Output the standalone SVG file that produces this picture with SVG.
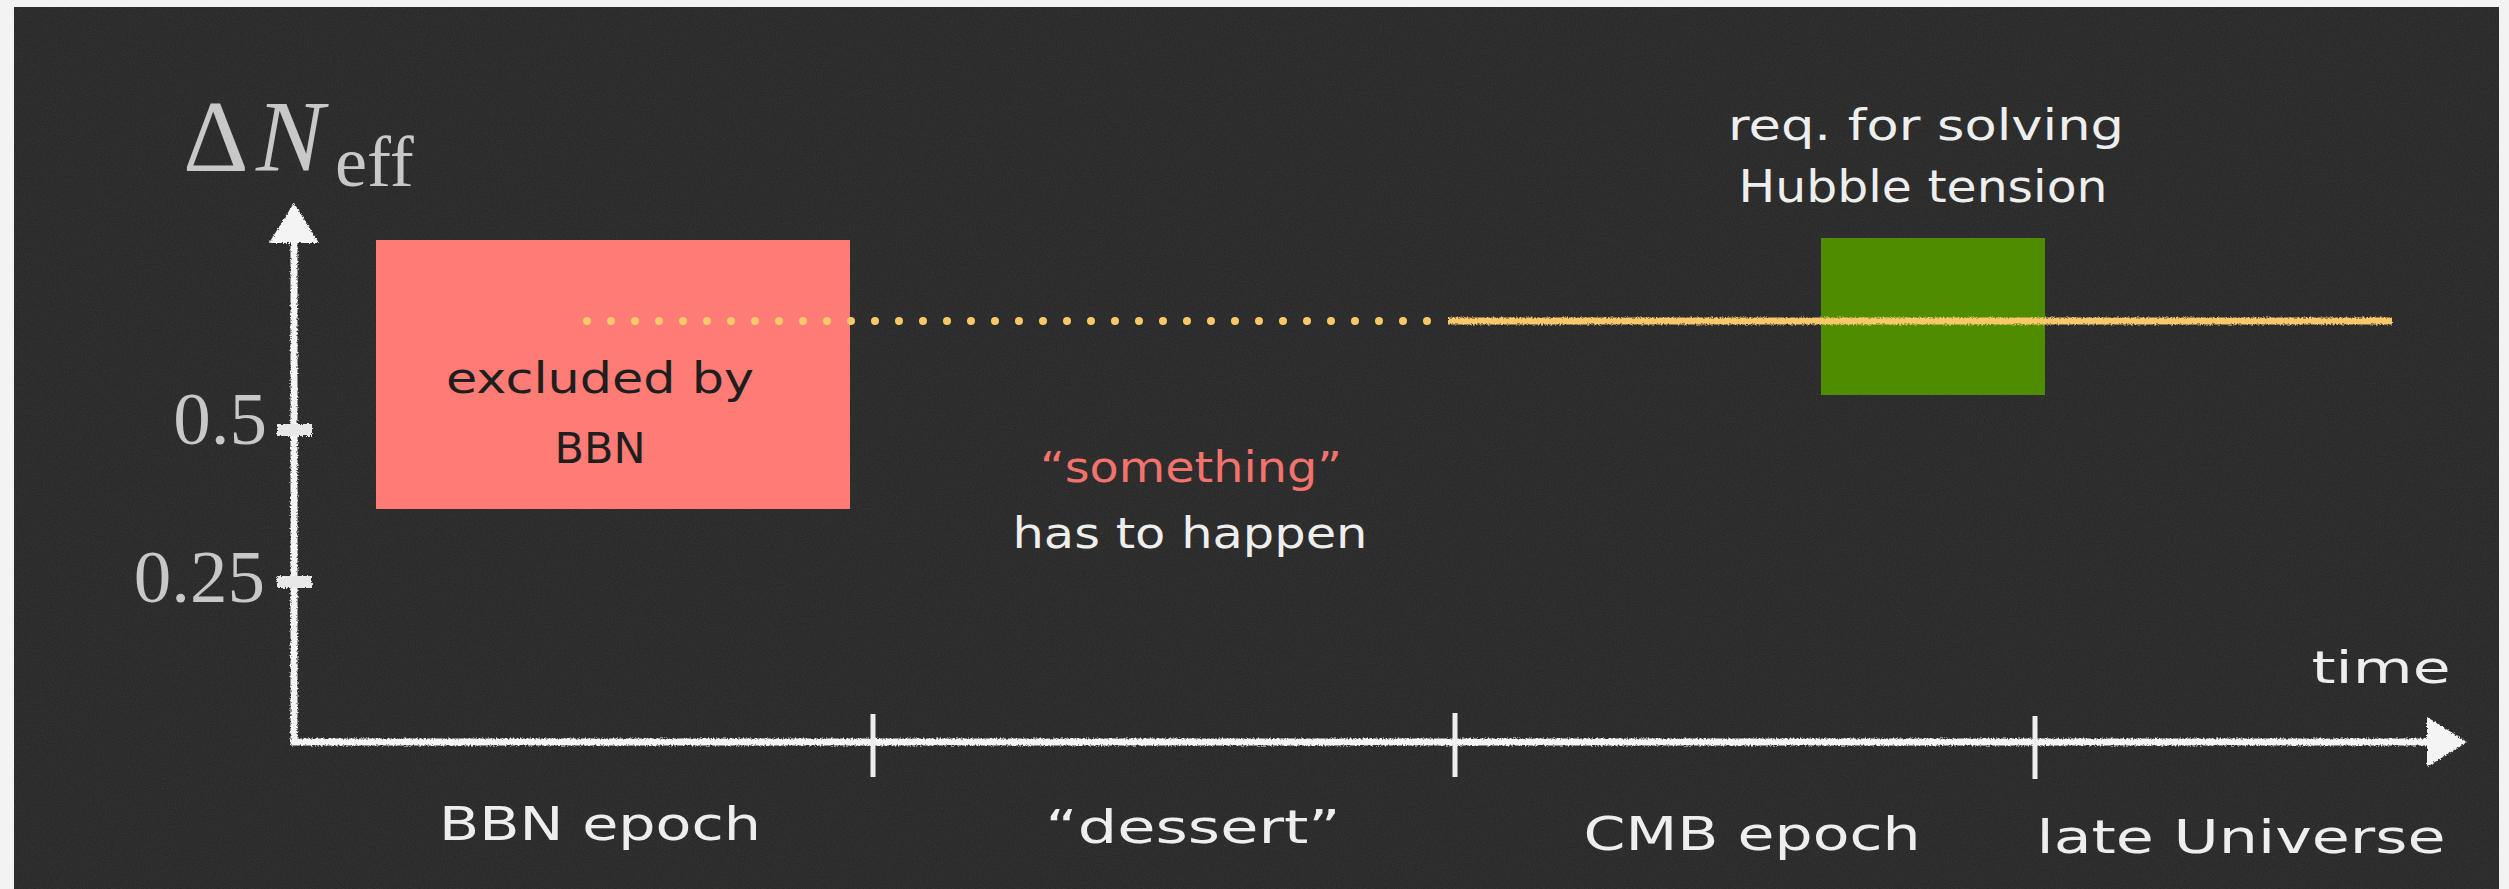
<svg xmlns="http://www.w3.org/2000/svg" width="2509" height="889" viewBox="0 0 2509 889">
  <style>
    .hand { font-family: "DejaVu Sans", "Liberation Sans", sans-serif; text-anchor: middle; }
    .chalk { fill: #eeeeee; }
    .math { font-family: "Liberation Serif", "DejaVu Serif", serif; fill: #c8c8c8; }
    .axis { fill: none; stroke: #f4f4f4; stroke-width: 7; stroke-linecap: butt; stroke-linejoin: miter; }
    .tick { fill: none; stroke: #eeeeee; stroke-width: 5; }
    .ytick { fill: none; stroke: #e8e8e8; stroke-width: 12; }
  </style>
  <defs>
    <filter id="noise" x="0" y="0" width="100%" height="100%">
      <feTurbulence type="fractalNoise" baseFrequency="0.85" numOctaves="2" seed="4" result="t"/>
      <feColorMatrix in="t" type="matrix" values="0 0 0 0 1  0 0 0 0 1  0 0 0 0 1  0.09 0 0 0 -0.02"/>
    </filter>
    <filter id="rough" filterUnits="userSpaceOnUse" x="0" y="0" width="2509" height="889">
      <feTurbulence type="fractalNoise" baseFrequency="0.6" numOctaves="2" seed="7" result="n"/>
      <feDisplacementMap in="SourceGraphic" in2="n" scale="4" xChannelSelector="R" yChannelSelector="G"/>
    </filter>
    <marker id="head" viewBox="0 0 40 50" refX="0" refY="25" markerUnits="userSpaceOnUse" markerWidth="40" markerHeight="50" orient="auto-start-reverse">
      <path d="M0 0 L40 25 L0 50 Z" fill="#f4f4f4"/>
    </marker>
  </defs>

  <g id="background">
    <rect x="0" y="0" width="2509" height="889" fill="#f3f3f3"/>
    <rect x="14" y="7" width="2485" height="882" fill="#282828"/>
    <rect x="14" y="7" width="2485" height="882" filter="url(#noise)"/>
  </g>

  <g id="axes">
    <path class="axis" filter="url(#rough)" d="M294 243 V742 H2427" marker-start="url(#head)" marker-end="url(#head)"/>
    <line class="ytick" filter="url(#rough)" x1="277" y1="430" x2="312" y2="430"/>
    <line class="ytick" filter="url(#rough)" x1="277" y1="582" x2="312" y2="582"/>
    <line class="tick" x1="873" y1="714" x2="873" y2="777"/>
    <line class="tick" x1="1455" y1="713" x2="1455" y2="777"/>
    <line class="tick" x1="2035" y1="716" x2="2035" y2="779"/>
    <text class="math" x="183" y="171" font-size="102">Δ</text>
    <text class="math" x="256" y="171" font-size="102" font-style="italic">N</text>
    <text class="math" x="335" y="186" font-size="72">eff</text>
    <text class="math" x="267" y="444" font-size="75" text-anchor="end">0.5</text>
    <text class="math" x="265" y="602" font-size="75" text-anchor="end">0.25</text>
    <text class="hand chalk" x="2381" y="683" font-size="44" textLength="139" lengthAdjust="spacingAndGlyphs">time</text>
  </g>

  <g id="node-bbn-excluded">
    <rect x="376" y="240" width="474" height="269" fill="#ff7b75"/>
    <text class="hand" x="600" y="393" font-size="42" fill="#1e1e1e" textLength="308" lengthAdjust="spacingAndGlyphs">excluded by</text>
    <text class="hand" x="600" y="463" font-size="42" fill="#1e1e1e" textLength="91" lengthAdjust="spacingAndGlyphs">BBN</text>
  </g>

  <g id="node-hubble">
    <rect x="1821" y="238" width="224" height="157" fill="#4f8c00"/>
    <text class="hand chalk" x="1926" y="140" font-size="43" textLength="396" lengthAdjust="spacingAndGlyphs">req. for solving</text>
    <text class="hand chalk" x="1923" y="202" font-size="44" textLength="369" lengthAdjust="spacingAndGlyphs">Hubble tension</text>
  </g>

  <g id="node-something">
    <text class="hand" x="1191" y="482" font-size="42" fill="#f2736c" textLength="302" lengthAdjust="spacingAndGlyphs">“something”</text>
    <text class="hand chalk" x="1190" y="548" font-size="42" textLength="355" lengthAdjust="spacingAndGlyphs">has to happen</text>
  </g>

  <g id="node-epochs">
    <text class="hand chalk" x="600" y="840" font-size="46" textLength="322" lengthAdjust="spacingAndGlyphs">BBN epoch</text>
    <text class="hand chalk" x="1193" y="843" font-size="46" textLength="295" lengthAdjust="spacingAndGlyphs">“dessert”</text>
    <text class="hand chalk" x="1752" y="850" font-size="46" textLength="337" lengthAdjust="spacingAndGlyphs">CMB epoch</text>
    <text class="hand chalk" x="2241" y="853" font-size="46" textLength="409" lengthAdjust="spacingAndGlyphs">late Universe</text>
  </g>

  <g id="connectors">
    <path d="M587 321 H1428" fill="none" stroke="#f9c86b" stroke-width="8" stroke-linecap="round" stroke-dasharray="0 24"/>
    <path d="M1448 321 H2392" fill="none" stroke="#f9c86b" stroke-width="7" filter="url(#rough)"/>
  </g>
</svg>
